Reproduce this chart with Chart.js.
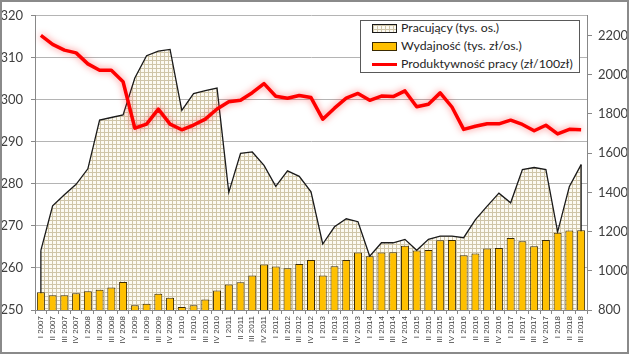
<!DOCTYPE html>
<html lang="pl">
<head>
<meta charset="UTF-8">
<title>Pracujący, wydajność i produktywność pracy</title>
<script src="https://cdn.jsdelivr.net/npm/chart.js"></script>
<style>
  html, body { margin: 0; padding: 0; background: #fff; }
  #wrap { position: relative; width: 629px; height: 354px; }
  #chart { position: absolute; left: 0; top: 0; }
  #frame { position: absolute; left: 0; top: 0; width: 629px; height: 354px;
           box-sizing: border-box; border: 2px solid #8a8a8a; pointer-events: none; }
  #legend { position: absolute; left: 360px; top: 20px; width: 220px; height: 53px;
            box-sizing: border-box; border: 1px solid #595959; background: #fff;
            font: 12.3px Lato, "Liberation Sans", sans-serif; color: #262626; }
  .item { position: absolute; left: 11px; height: 14px; line-height: 14px; white-space: nowrap; }
  .sym { display: inline-block; width: 25px; vertical-align: middle; margin-right: 4px; box-sizing: border-box; }
  .s-area { height: 9px; border: 1px solid #1a1a1a; background-color: #fcfaf2;
            background-image: linear-gradient(90deg, #cfc5a8 1px, transparent 1px),
                              linear-gradient(#cfc5a8 1px, transparent 1px);
            background-size: 4px 4px; }
  .s-bar { height: 9px; border: 1px solid #3a2a00; background: #ffc000; }
  .s-line { height: 3px; background: #ff0000; }
</style>
</head>
<body>
<div id="wrap">
  <canvas id="chart" width="629" height="354"></canvas>
  <div id="legend">
    <div class="item" style="top:0px"><span class="sym s-area"></span>Pracujący (tys. os.)</div>
    <div class="item" style="top:18px"><span class="sym s-bar"></span>Wydajność (tys. zł/os.)</div>
    <div class="item" style="top:36px"><span class="sym s-line"></span>Produktywność pracy (zł/100zł)</div>
  </div>
  <div id="frame"></div>
</div>
<script>
// kwartały
const quarters = [
  'I 2007', 'II 2007', 'III 2007', 'IV 2007',
  'I 2008', 'II 2008', 'III 2008', 'IV 2008',
  'I 2009', 'II 2009', 'III 2009', 'IV 2009',
  'I 2010', 'II 2010', 'III 2010', 'IV 2010',
  'I 2011', 'II 2011', 'III 2011', 'IV 2011',
  'I 2012', 'II 2012', 'III 2012', 'IV 2012',
  'I 2013', 'II 2013', 'III 2013', 'IV 2013',
  'I 2014', 'II 2014', 'III 2014', 'IV 2014',
  'I 2015', 'II 2015', 'III 2015', 'IV 2015',
  'I 2016', 'II 2016', 'III 2016', 'IV 2016',
  'I 2017', 'II 2017', 'III 2017', 'IV 2017',
  'I 2018', 'II 2018', 'III 2018'
];

// Pracujący (tys. os.) - lewa oś
const pracujacy = [
  264.2, 274.8, 277.4, 279.9, 283.6, 295.2, 295.8, 296.4,
  305.2, 310.5, 311.6, 312.0, 297.5, 301.5, 302.2, 302.8,
  278.0, 287.3, 287.6, 284.4, 279.4, 283.1, 281.8, 278.1,
  265.7, 269.8, 271.7, 271.0, 262.8, 266.0, 266.0, 266.8,
  264.2, 266.8, 267.6, 267.6, 267.2, 271.5, 274.7, 277.8,
  275.5, 283.4, 283.9, 283.4, 268.6, 279.4, 284.6
];

// Wydajność (tys. zł/os.) - prawa oś
const wydajnosc = [
  891, 875, 875, 885, 895, 903, 915, 943,
  824, 832, 883, 863, 815, 824, 854, 900,
  930, 942, 976, 1032, 1022, 1013, 1034, 1055,
  976, 1023, 1055, 1093, 1074, 1093, 1094, 1128,
  1104, 1106, 1155, 1157, 1079, 1088, 1113, 1116,
  1167, 1150, 1125, 1157, 1194, 1205, 1206
];

// Produktywność pracy (zł/100zł) - prawa oś
const produktywnosc = [
  2200, 2154, 2125, 2111, 2055, 2022, 2022, 1964,
  1727, 1748, 1824, 1748, 1719, 1743, 1773, 1825,
  1862, 1869, 1908, 1954, 1890, 1880, 1894, 1883,
  1773, 1829, 1880, 1904, 1869, 1891, 1888, 1917,
  1836, 1849, 1907, 1835, 1721, 1737, 1750, 1749,
  1768, 1746, 1714, 1742, 1698, 1721, 1719
];

// kratka do wypełnienia obszaru
function gridPattern() {
  const c = document.createElement('canvas');
  c.width = 4; c.height = 4;
  const g = c.getContext('2d');
  g.fillStyle = '#fcfaf2'; g.fillRect(0, 0, 4, 4);
  g.fillStyle = '#cfc5a8';
  g.fillRect(0, 0, 4, 1);
  g.fillRect(0, 0, 1, 4);
  return g.createPattern(c, 'repeat');
}

// pionowe krawędzie obszaru (jak w Excelu)
const areaEdges = {
  id: 'areaEdges',
  afterDatasetDraw(chart, args) {
    if (args.index !== 0) return;
    const pts = args.meta.data;
    const base = chart.scales.y.bottom;
    const ctx = chart.ctx;
    ctx.save();
    ctx.strokeStyle = '#1a1a1a';
    ctx.lineWidth = 1.3;
    ctx.beginPath();
    [pts[0], pts[pts.length - 1]].forEach(p => {
      ctx.moveTo(p.x, p.y);
      ctx.lineTo(p.x, base);
    });
    ctx.stroke();
    ctx.restore();
  }
};

// poświata czerwonej linii
const glow = {
  id: 'glow',
  beforeDatasetDraw(chart, args) {
    if (args.index !== 2) return;
    const ctx = chart.ctx;
    ctx.save();
    ctx.shadowColor = 'rgba(255, 40, 40, 0.6)';
    ctx.shadowBlur = 7;
  },
  afterDatasetDraw(chart, args) {
    if (args.index !== 2) return;
    chart.ctx.restore();
  }
};

const tickFont = { family: 'Lato, "Liberation Sans", sans-serif', size: 13 };

new Chart(document.getElementById('chart'), {
  type: 'bar',
  data: {
    labels: quarters,
    datasets: [
      {
        type: 'line',
        label: 'Pracujący (tys. os.)',
        data: pracujacy,
        yAxisID: 'y',
        fill: 'start',
        backgroundColor: gridPattern(),
        borderColor: '#1a1a1a',
        borderWidth: 1.3,
        pointRadius: 0,
        tension: 0,
        order: 3
      },
      {
        label: 'Wydajność (tys. zł/os.)',
        data: wydajnosc,
        yAxisID: 'y1',
        backgroundColor: '#ffc000',
        borderColor: '#3a2a00',
        borderWidth: 1,
        categoryPercentage: 1,
        barPercentage: 0.68,
        order: 2
      },
      {
        type: 'line',
        label: 'Produktywność pracy (zł/100zł)',
        data: produktywnosc,
        yAxisID: 'y1',
        fill: false,
        borderColor: '#ff0000',
        borderWidth: 3.5,
        borderJoinStyle: 'round',
        pointRadius: 0,
        tension: 0,
        order: 1
      }
    ]
  },
  options: {
    responsive: false,
    maintainAspectRatio: false,
    devicePixelRatio: 1,
    animation: false,
    layout: { padding: { top: 15, left: 0, right: 0, bottom: 0 } },
    plugins: {
      legend: { display: false },
      tooltip: { enabled: false }
    },
    scales: {
      x: {
        offset: true,
        grid: { display: true, drawOnChartArea: false, offset: true, color: '#888', tickLength: 4 },
        border: { color: '#888' },
        ticks: {
          autoSkip: false, minRotation: 90, maxRotation: 90, padding: 2,
          color: '#404040', font: { family: '"Liberation Sans", sans-serif', size: 8 }
        },
        afterFit(s) { s.height = 44; }
      },
      y: {
        position: 'left',
        min: 250, max: 320,
        ticks: { stepSize: 10, padding: 8, color: '#404040', font: tickFont },
        grid: { color: '#b4b4b4', tickLength: 4, tickColor: '#888' },
        border: { color: '#888' },
        afterFit(s) { s.width = 35; }
      },
      y1: {
        position: 'right',
        min: 800, max: 2300,
        ticks: {
          stepSize: 200, padding: 6, color: '#404040', font: tickFont,
          callback: v => String(v)
        },
        grid: { drawOnChartArea: false, tickLength: 5, color: '#888' },
        border: { color: '#888' },
        afterBuildTicks(s) { s.ticks = s.ticks.filter(t => t.value <= 2200); },
        afterFit(s) { s.width = 42; }
      }
    }
  },
  plugins: [areaEdges, glow]
});
</script>
</body>
</html>
